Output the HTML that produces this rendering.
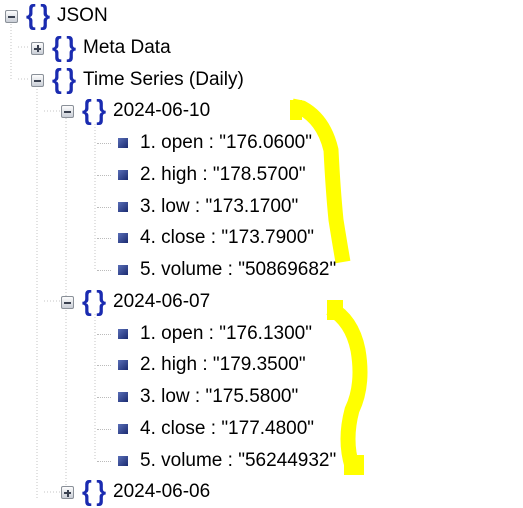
<!DOCTYPE html>
<html><head><meta charset="utf-8"><style>
body{margin:0;width:523px;height:508px;background:#fff;overflow:hidden;position:relative;font-family:"Liberation Sans",Arial,sans-serif;}
.t{position:absolute;font-size:19px;color:#000;white-space:nowrap;line-height:22px;}
.box{position:absolute;width:11px;height:11px;border:1px solid #8a9098;border-radius:2px;background:linear-gradient(#fdfdfd,#c9ced6);}
.box::after{content:"";position:absolute;left:2px;top:5px;width:7px;height:2px;background:#3a4150;}
.box.p::before{content:"";position:absolute;left:4.5px;top:2.5px;width:2px;height:7px;background:#3a4150;}
.br{position:absolute;font-size:28px;font-weight:bold;color:#1a2bb0;line-height:28px;letter-spacing:5px;font-family:"Liberation Sans",sans-serif;transform:scaleX(0.9);transform-origin:left;}
.sq{position:absolute;width:10px;height:10px;background:linear-gradient(135deg,#5a6fb8,#1a2a70);}
.hl{position:absolute;height:0;border-top:1px dotted #bbb;}
</style></head><body>
<svg style="position:absolute;left:0;top:0" width="523" height="508">
<g stroke="#c4c4c4" stroke-dasharray="1,2" fill="none">
<line x1="11" y1="24" x2="11" y2="80"/><line x1="37" y1="86" x2="37" y2="500"/>
<line x1="66" y1="118" x2="66" y2="492"/>
<line x1="95" y1="124" x2="95" y2="270"/><line x1="95" y1="314" x2="95" y2="460"/>
<line x1="18" y1="47" x2="30" y2="47"/><line x1="18" y1="79" x2="30" y2="79"/>
<line x1="44" y1="111" x2="60" y2="111"/><line x1="44" y1="301" x2="60" y2="301"/><line x1="44" y1="492" x2="60" y2="492"/>
</g></svg>
<div id="tree"></div>
<svg style="position:absolute;left:0;top:0" width="523" height="508">
<path d="M292 106 L302 108 Q324 120 331 150 Q333 190 336 220 Q340 245 343 262" stroke="#ffff00" stroke-width="15" fill="none" stroke-linejoin="round"/>
<rect x="290" y="100" width="12" height="20" fill="#ffff00"/>
<path d="M330 308 Q352 320 358 350 Q364 385 352 410 Q344 440 352 466" stroke="#ffff00" stroke-width="15" fill="none" stroke-linejoin="round"/>
<rect x="327" y="300" width="16" height="20" fill="#ffff00"/>
<rect x="344" y="455" width="20" height="20" fill="#ffff00"/>
</svg>
<script>
const rows=[
 [0,'JSON','m'],[1,'Meta Data','p'],[1,'Time Series (Daily)','m'],
 [2,'2024-06-10','m'],[3,'1. open : "176.0600"'],[3,'2. high : "178.5700"'],[3,'3. low : "173.1700"'],[3,'4. close : "173.7900"'],[3,'5. volume : "50869682"'],
 [2,'2024-06-07','m'],[3,'1. open : "176.1300"'],[3,'2. high : "179.3500"'],[3,'3. low : "175.5800"'],[3,'4. close : "177.4800"'],[3,'5. volume : "56244932"'],
 [2,'2024-06-06','p']];
const tree=document.getElementById('tree');


rows.forEach((r,i)=>{
 const y=16+i*31.75;
 const lv=r[0];
 if(lv<3){
  const bx=[5,31,61][lv];
  const b=document.createElement('div');
  b.className='box'+(r[2]==='p'?' p':'');
  b.style.left=bx+'px';b.style.top=(y-6)+'px';
  
  
  tree.appendChild(b);
  const br=document.createElement('div');
  br.className='br';br.textContent='{}';
  br.style.left=(bx+21)+'px';br.style.top=(y-15)+'px';
  
  
  tree.appendChild(br);
  const t=document.createElement('div');
  t.className='t';t.textContent=r[1];
  t.style.left=(bx+52)+'px';t.style.top=(y-11)+'px';
  
  
  tree.appendChild(t);
 }else{
  const h=document.createElement('div');
  h.className='hl';h.style.left='97px';h.style.width='14px';h.style.top=y+'px';
  
  
  tree.appendChild(h);
  const s=document.createElement('div');
  s.className='sq';s.style.left='118px';s.style.top=(y-5)+'px';
  
  
  tree.appendChild(s);
  const t=document.createElement('div');
  t.className='t';t.textContent=r[1];
  t.style.left='140px';t.style.top=(y-11)+'px';
  
  
  tree.appendChild(t);
 }
});
</script>
</body></html>
